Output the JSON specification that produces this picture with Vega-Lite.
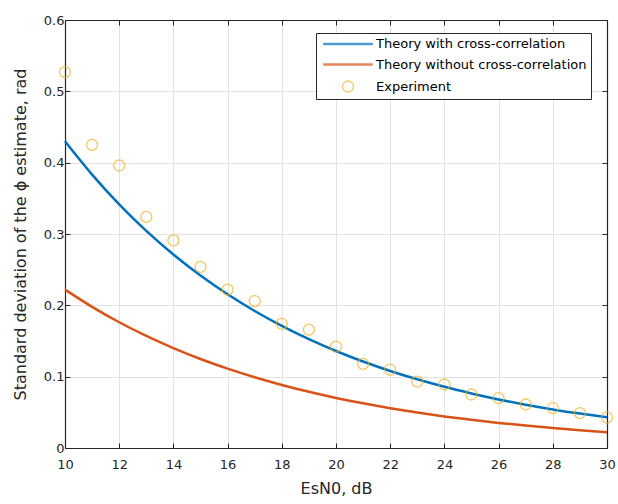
{
  "$schema": "https://vega.github.io/schema/vega-lite/v6.json",
  "width": 542,
  "height": 428,
  "autosize": {"type": "none"},
  "padding": {"left": 65, "top": 20, "right": 11, "bottom": 56},
  "background": "white",
  "config": {
    "font": "DejaVu Sans",
    "view": {"stroke": "#262626", "strokeWidth": 1},
    "axis": {
      "labelFont": "DejaVu Sans",
      "titleFont": "DejaVu Sans",
      "labelColor": "#262626",
      "titleColor": "#262626",
      "labelFontSize": 13,
      "titleFontSize": 15,
      "titleFontWeight": "normal",
      "labelFlush": false,
      "gridColor": "#e3e3e3",
      "gridOpacity": 1,
      "domainColor": "#262626",
      "domainWidth": 1.2,
      "tickColor": "#262626",
      "tickSize": -5
    }
  },
  "resolve": {"axis": {"x": "independent", "y": "independent"}},
  "data": {
    "values": [
      {"x": 10, "y": 0.430, "series": "Theory with cross-correlation"},
      {"x": 11, "y": 0.3833, "series": "Theory with cross-correlation"},
      {"x": 12, "y": 0.3416, "series": "Theory with cross-correlation"},
      {"x": 13, "y": 0.3044, "series": "Theory with cross-correlation"},
      {"x": 14, "y": 0.2713, "series": "Theory with cross-correlation"},
      {"x": 15, "y": 0.2418, "series": "Theory with cross-correlation"},
      {"x": 16, "y": 0.2155, "series": "Theory with cross-correlation"},
      {"x": 17, "y": 0.1921, "series": "Theory with cross-correlation"},
      {"x": 18, "y": 0.1712, "series": "Theory with cross-correlation"},
      {"x": 19, "y": 0.1526, "series": "Theory with cross-correlation"},
      {"x": 20, "y": 0.1360, "series": "Theory with cross-correlation"},
      {"x": 21, "y": 0.1212, "series": "Theory with cross-correlation"},
      {"x": 22, "y": 0.1080, "series": "Theory with cross-correlation"},
      {"x": 23, "y": 0.0963, "series": "Theory with cross-correlation"},
      {"x": 24, "y": 0.0858, "series": "Theory with cross-correlation"},
      {"x": 25, "y": 0.0765, "series": "Theory with cross-correlation"},
      {"x": 26, "y": 0.0681, "series": "Theory with cross-correlation"},
      {"x": 27, "y": 0.0607, "series": "Theory with cross-correlation"},
      {"x": 28, "y": 0.0541, "series": "Theory with cross-correlation"},
      {"x": 29, "y": 0.0483, "series": "Theory with cross-correlation"},
      {"x": 30, "y": 0.0430, "series": "Theory with cross-correlation"},
      {"x": 10, "y": 0.222, "series": "Theory without cross-correlation"},
      {"x": 11, "y": 0.1979, "series": "Theory without cross-correlation"},
      {"x": 12, "y": 0.1763, "series": "Theory without cross-correlation"},
      {"x": 13, "y": 0.1572, "series": "Theory without cross-correlation"},
      {"x": 14, "y": 0.1401, "series": "Theory without cross-correlation"},
      {"x": 15, "y": 0.1248, "series": "Theory without cross-correlation"},
      {"x": 16, "y": 0.1113, "series": "Theory without cross-correlation"},
      {"x": 17, "y": 0.0992, "series": "Theory without cross-correlation"},
      {"x": 18, "y": 0.0884, "series": "Theory without cross-correlation"},
      {"x": 19, "y": 0.0788, "series": "Theory without cross-correlation"},
      {"x": 20, "y": 0.0702, "series": "Theory without cross-correlation"},
      {"x": 21, "y": 0.0626, "series": "Theory without cross-correlation"},
      {"x": 22, "y": 0.0558, "series": "Theory without cross-correlation"},
      {"x": 23, "y": 0.0497, "series": "Theory without cross-correlation"},
      {"x": 24, "y": 0.0443, "series": "Theory without cross-correlation"},
      {"x": 25, "y": 0.0395, "series": "Theory without cross-correlation"},
      {"x": 26, "y": 0.0352, "series": "Theory without cross-correlation"},
      {"x": 27, "y": 0.0314, "series": "Theory without cross-correlation"},
      {"x": 28, "y": 0.0280, "series": "Theory without cross-correlation"},
      {"x": 29, "y": 0.0249, "series": "Theory without cross-correlation"},
      {"x": 30, "y": 0.0222, "series": "Theory without cross-correlation"},
      {"x": 10, "y": 0.527, "series": "Experiment"},
      {"x": 11, "y": 0.425, "series": "Experiment"},
      {"x": 12, "y": 0.396, "series": "Experiment"},
      {"x": 13, "y": 0.324, "series": "Experiment"},
      {"x": 14, "y": 0.291, "series": "Experiment"},
      {"x": 15, "y": 0.254, "series": "Experiment"},
      {"x": 16, "y": 0.222, "series": "Experiment"},
      {"x": 17, "y": 0.206, "series": "Experiment"},
      {"x": 18, "y": 0.174, "series": "Experiment"},
      {"x": 19, "y": 0.166, "series": "Experiment"},
      {"x": 20, "y": 0.142, "series": "Experiment"},
      {"x": 21, "y": 0.118, "series": "Experiment"},
      {"x": 22, "y": 0.110, "series": "Experiment"},
      {"x": 23, "y": 0.093, "series": "Experiment"},
      {"x": 24, "y": 0.089, "series": "Experiment"},
      {"x": 25, "y": 0.075, "series": "Experiment"},
      {"x": 26, "y": 0.070, "series": "Experiment"},
      {"x": 27, "y": 0.061, "series": "Experiment"},
      {"x": 28, "y": 0.056, "series": "Experiment"},
      {"x": 29, "y": 0.049, "series": "Experiment"},
      {"x": 30, "y": 0.043, "series": "Experiment"}
    ]
  },
  "encoding": {
    "color": {
      "field": "series", "type": "nominal",
      "scale": {
        "domain": ["Theory with cross-correlation", "Theory without cross-correlation", "Experiment"],
        "range": ["#0072BD", "#D95319", "#EDB120"]
      },
      "legend": {
        "title": null,
        "orient": "none",
        "legendX": 251,
        "legendY": 13,
        "fillColor": "white",
        "strokeColor": "#262626",
        "padding": 4,
        "symbolOffset": 21,
        "labelOffset": 21,
        "labelFontSize": 13,
        "labelColor": "#000000",
        "labelFont": "DejaVu Sans",
        "rowPadding": 6.5,
        "symbolSize": 121,
        "labelLimit": 400
      }
    }
  },
  "layer": [
    {
      "transform": [{"filter": "datum.series !== 'Experiment'"}],
      "mark": {"type": "line", "strokeWidth": 2.5, "interpolate": "monotone"},
      "encoding": {
        "x": {
          "field": "x", "type": "quantitative",
          "scale": {"domain": [10, 30], "nice": false},
          "axis": {"orient": "bottom", "values": [10, 12, 14, 16, 18, 20, 22, 24, 26, 28, 30], "title": "EsN0, dB", "titleFontSize": 16, "titlePadding": 9, "labelPadding": 15}
        },
        "y": {
          "field": "y", "type": "quantitative",
          "scale": {"domain": [0, 0.6], "nice": false},
          "axis": {"orient": "left", "values": [0, 0.1, 0.2, 0.3, 0.4, 0.5, 0.6], "format": ".1~f", "title": "Standard deviation of the  \u03d5 estimate, rad", "titleFontSize": 16, "titlePadding": 15, "labelPadding": 6}
        }
      }
    },
    {
      "transform": [{"filter": "datum.series === 'Experiment'"}],
      "mark": {"type": "point", "filled": false, "size": 121},
      "encoding": {
        "x": {
          "field": "x", "type": "quantitative",
          "scale": {"domain": [10, 30], "nice": false},
          "axis": {"orient": "top", "values": [10, 12, 14, 16, 18, 20, 22, 24, 26, 28, 30], "title": null, "labels": false, "grid": false}
        },
        "y": {
          "field": "y", "type": "quantitative",
          "scale": {"domain": [0, 0.6], "nice": false},
          "axis": {"orient": "right", "values": [0, 0.1, 0.2, 0.3, 0.4, 0.5, 0.6], "title": null, "labels": false, "grid": false}
        },
        "shape": {
          "field": "series", "type": "nominal",
          "scale": {
            "domain": ["Theory with cross-correlation", "Theory without cross-correlation", "Experiment"],
            "range": ["M-4.5,0H4.5", "M-4.5,0H4.5", "circle"]
          },
          "legend": {"title": null, "orient": "none", "legendX": 251, "legendY": 13}
        },
        "strokeWidth": {
          "field": "series", "type": "nominal",
          "scale": {
            "type": "ordinal",
            "domain": ["Theory with cross-correlation", "Theory without cross-correlation", "Experiment"],
            "range": [2.5, 2.5, 1.3]
          },
          "legend": {"title": null, "orient": "none", "legendX": 251, "legendY": 13}
        }
      }
    }
  ]
}
